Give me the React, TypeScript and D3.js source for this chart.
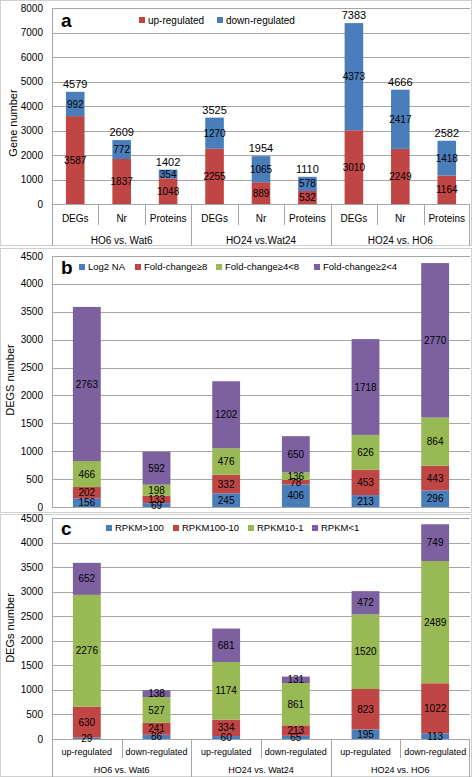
import React from "react";
import * as d3 from "d3";

// Panel a
const aCategories = ["DEGs", "Nr", "Proteins", "DEGs", "Nr", "Proteins", "DEGs", "Nr", "Proteins"];
const aGroups = ["HO6 vs. Wat6", "HO24 vs.Wat24", "HO24 vs. HO6"];
const aUp = [3587, 1837, 1048, 2255, 889, 532, 3010, 2249, 1164];
const aDown = [992, 772, 354, 1270, 1065, 578, 4373, 2417, 1418];
const aSeriesNames = ["up-regulated", "down-regulated"];
const aTicks = [0, 1000, 2000, 3000, 4000, 5000, 6000, 7000, 8000];

// Panel b
const bSeriesNames = ["Log2 NA", "Fold-change≥8", "Fold-change≥4<8", "Fold-change≥2<4"];
const bLog2NA = [156, 69, 245, 406, 213, 296];
const bFC8 = [202, 133, 332, 78, 453, 443];
const bFC4 = [466, 198, 476, 136, 626, 864];
const bFC2 = [2763, 592, 1202, 650, 1718, 2770];

// Panel c
const cCategories = ["up-regulated", "down-regulated", "up-regulated", "down-regulated", "up-regulated", "down-regulated"];
const cGroups = ["HO6 vs. Wat6", "HO24 vs. Wat24", "HO24 vs. HO6"];
const cSeriesNames = ["RPKM>100", "RPKM100-10", "RPKM10-1", "RPKM<1"];
const cR100 = [29, 86, 60, 65, 195, 113];
const cR10 = [630, 241, 334, 213, 823, 1022];
const cR1 = [2276, 527, 1174, 861, 1520, 2489];
const cR0 = [652, 138, 681, 131, 472, 749];
const bcTicks = [0, 500, 1000, 1500, 2000, 2500, 3000, 3500, 4000, 4500];

const BLUE = "#4a7ebb";
const RED = "#c04545";
const GREEN = "#98b954";
const PURPLE = "#7d60a0";
const FONT = "'Liberation Sans', Arial, sans-serif";
const GRID = "#a6a6a6";

type PanelProps = {
  letter: string;
  frame: [number, number];
  yTop: number;
  yBottom: number;
  ticks: number[];
  series: number[][];
  colors: string[];
  names: string[];
  legendX: number[];
  legendY: number;
  legendSize: number;
  yLabel: string;
  yLabelX: number;
  yLabelY: number;
  showTotals?: boolean;
  categories?: string[];
  groups?: string[];
  perGroup?: number;
  catSize?: number;
  catLabelOffset?: number;
  catSepOffset?: number;
  groupOffset?: number;
};

const X0 = 52;
const X1 = 470;

function Panel(p: PanelProps) {
  const n = p.series[0].length;
  const x = d3.scaleBand<number>().domain(d3.range(n)).range([X0, X1]).padding(0);
  const y = d3.scaleLinear().domain([0, p.ticks[p.ticks.length - 1]]).range([p.yBottom, p.yTop]);
  const bw = x.bandwidth() * 0.4;
  const stack = d3.stack<number>().keys(d3.range(p.series.length) as any).value((i: number, k: any) => p.series[k][i]);
  const stacked = stack(d3.range(n));
  const bottom = p.frame[1];
  const catLabelY = p.yBottom + (p.catLabelOffset ?? 14);
  const catSepBottom = p.yBottom + (p.catSepOffset ?? 21);
  const groupY = p.yBottom + (p.groupOffset ?? 35);
  return (
    <g fontFamily={FONT}>
      <rect x={0.5} y={p.frame[0] + 0.5} width={471} height={p.frame[1] - p.frame[0] - 1} fill="#fff" stroke="#d0d0d0" />
      {p.ticks.map((t) => (
        <g key={t}>
          <line x1={X0} x2={X1} y1={Math.round(y(t)) + 0.5} y2={Math.round(y(t)) + 0.5} stroke={GRID} strokeWidth={1} />
          <text x={43} y={y(t)} dy="0.35em" textAnchor="end" fontSize={10} fill="#000">
            {t}
          </text>
        </g>
      ))}
      <line x1={X0 + 0.5} x2={X0 + 0.5} y1={p.yTop} y2={p.categories ? bottom : p.yBottom} stroke={GRID} />
      {p.categories && <line x1={X1 - 0.5} x2={X1 - 0.5} y1={p.yBottom} y2={bottom} stroke={GRID} />}
      <text
        transform={`translate(${p.yLabelX},${p.yLabelY}) rotate(-90)`}
        textAnchor="middle"
        fontSize={11}
        fill="#000"
      >
        {p.yLabel}
      </text>
      {stacked.map((layer, si) =>
        layer.map((d, i) => (
          <rect
            key={`${si}-${i}`}
            x={(x(i) as number) + (x.bandwidth() - bw) / 2}
            y={y(d[1])}
            width={bw}
            height={y(d[0]) - y(d[1])}
            fill={p.colors[si]}
          />
        ))
      )}
      {stacked.map((layer, si) =>
        layer.map((d, i) => (
          <text
            key={`l${si}-${i}`}
            x={(x(i) as number) + x.bandwidth() / 2}
            y={(y(d[0]) + y(d[1])) / 2}
            dy="0.36em"
            textAnchor="middle"
            fontSize={10}
            fill="#000"
          >
            {p.series[si][i]}
          </text>
        ))
      )}
      {p.showTotals &&
        d3.range(n).map((i) => {
          const total = d3.sum(p.series, (s) => s[i]);
          return (
            <text key={`t${i}`} x={(x(i) as number) + x.bandwidth() / 2} y={y(total) - 4} textAnchor="middle" fontSize={11} fill="#000">
              {total}
            </text>
          );
        })}
      {p.categories &&
        p.categories.map((c, i) => (
          <g key={`c${i}`}>
            <text x={(x(i) as number) + x.bandwidth() / 2} y={catLabelY} dy="0.35em" textAnchor="middle" fontSize={p.catSize ?? 10} fill="#000">
              {c}
            </text>
            {i > 0 && (
              <line
                x1={Math.round(x(i) as number) + 0.5}
                x2={Math.round(x(i) as number) + 0.5}
                y1={p.yBottom}
                y2={i % (p.perGroup as number) === 0 ? bottom : catSepBottom}
                stroke={GRID}
              />
            )}
          </g>
        ))}
      {p.groups &&
        p.groups.map((g, gi) => {
          const k = p.perGroup as number;
          const cx = ((x(gi * k) as number) + (x(gi * k + k - 1) as number) + x.bandwidth()) / 2;
          return (
            <text key={`g${gi}`} x={cx} y={groupY} dy="0.35em" textAnchor="middle" fontSize={p.catSize ?? 10} fill="#000">
              {g}
            </text>
          );
        })}
      <text x={61} y={p.legendY} dy="0.36em" fontSize={19} fontWeight="bold" fill="#000">
        {p.letter}
      </text>
      {p.names.map((nm, i) => (
        <g key={nm}>
          <rect x={p.legendX[i]} y={p.legendY - 3} width={6} height={6} fill={p.colors[i]} />
          <text x={p.legendX[i] + 9} y={p.legendY} dy="0.35em" fontSize={p.legendSize} fill="#000">
            {nm}
          </text>
        </g>
      ))}
    </g>
  );
}

export default function App() {
  return (
    <svg
      width={472}
      height={777}
      style={{ position: "absolute", left: 0, top: 0, display: "block", background: "#fff" }}
    >
      <Panel
        letter="a"
        frame={[0, 246]}
        yTop={8}
        yBottom={204}
        ticks={aTicks}
        series={[aUp, aDown]}
        colors={[RED, BLUE]}
        names={aSeriesNames}
        legendX={[139, 217]}
        legendY={20}
        legendSize={10}
        yLabel="Gene number"
        yLabelX={17}
        yLabelY={123}
        showTotals
        categories={aCategories}
        groups={aGroups}
        perGroup={3}
        catSize={10}
        catLabelOffset={14}
        catSepOffset={21}
        groupOffset={36}
      />
      <Panel
        letter="b"
        frame={[248, 513]}
        yTop={256}
        yBottom={507}
        ticks={bcTicks}
        series={[bLog2NA, bFC8, bFC4, bFC2]}
        colors={[BLUE, RED, GREEN, PURPLE]}
        names={bSeriesNames}
        legendX={[79, 135, 216, 314]}
        legendY={267}
        legendSize={9.5}
        yLabel="DEGS number"
        yLabelX={14}
        yLabelY={380}
      />
      <Panel
        letter="c"
        frame={[514, 777]}
        yTop={518}
        yBottom={739}
        ticks={bcTicks}
        series={[cR100, cR10, cR1, cR0]}
        colors={[BLUE, RED, GREEN, PURPLE]}
        names={cSeriesNames}
        legendX={[106, 173, 248, 312]}
        legendY={528}
        legendSize={9.5}
        yLabel="DEGs number"
        yLabelX={14}
        yLabelY={628}
        categories={cCategories}
        groups={cGroups}
        perGroup={2}
        catSize={9}
        catLabelOffset={13}
        catSepOffset={19}
        groupOffset={31}
      />
    </svg>
  );
}
